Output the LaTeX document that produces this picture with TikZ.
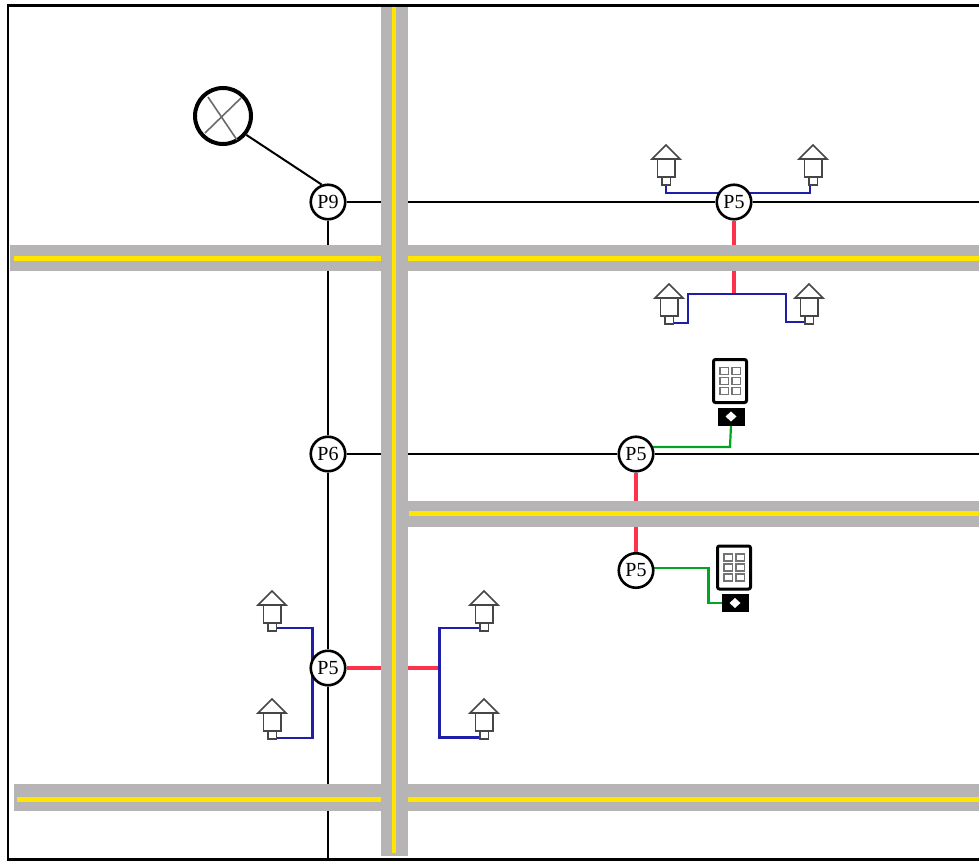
\documentclass[tikz,border=0pt]{standalone}
\usepackage{fontspec}
\setmainfont{Liberation Serif}
\pgfdeclarelayer{wires}
\pgfdeclarelayer{roads}
\pgfsetlayers{wires,roads,main}
\definecolor{roadgray}{RGB}{182,180,180}
\definecolor{roadline}{RGB}{255,229,0}
\definecolor{feedred}{RGB}{255,50,75}
\definecolor{lampblue}{RGB}{30,30,170}
\definecolor{solargreen}{RGB}{0,165,35}
\definecolor{lampgray}{RGB}{70,70,70}
\tikzset{
  x=1pt,y=-1pt,
  pole/.style={circle,draw=black,line width=2.6pt,fill=white,minimum size=34.5pt,inner sep=0pt,font=\fontsize{20}{20}\selectfont},
  main line/.style={draw=black,line width=2pt},
  feed/.style={draw=feedred,line width=4pt},
  lampwire/.style={draw=lampblue,line width=2.2pt},
  solarwire/.style={draw=solargreen,line width=2.2pt},
  road/.style={fill=roadgray},
  stripe/.style={fill=roadline},
  pics/lamp/.style={code={
    \draw[lampgray,line width=1.7pt,line join=miter] (-14,14) -- (0,0) -- (14,14) -- cycle;
    \draw[lampgray,line width=1.5pt,fill=white] (-8.5,14) rectangle (9,32);
    \draw[lampgray,line width=1.2pt,fill=white] (-4,32) rectangle (4.5,40);
    \coordinate (-base) at (0,40);
  }},
  pics/solar/.style={code={
    \draw[black,line width=3pt,rounded corners=2pt,fill=white] (0,0) rectangle (33,43);
    \foreach \cy in {8,18,28}{
      \draw[lampgray!75,line width=1.2pt,fill=white] (6.5,\cy) rectangle (15,\cy+7);
      \draw[lampgray!75,line width=1.2pt,fill=white] (18.5,\cy) rectangle (27,\cy+7);
    }
    \fill[black] (4,48) rectangle (31,66);
    \fill[white] (17.5,52) -- (23,57) -- (17.5,62) -- (12,57) -- cycle;
    \coordinate (-base) at (17.5,66);
    \coordinate (-side) at (4,57);
  }}
}
\begin{document}
\begin{tikzpicture}
\useasboundingbox (0,0) rectangle (979,861);
\begin{pgfonlayer}{wires}
  \fill[white] (0,0) rectangle (979,861);
\end{pgfonlayer}

% poles
\node[pole] (p9) at (328,202) {P9};
\node[pole] (p6) at (328,454) {P6};
\node[pole] (p5a) at (734,202) {P5};
\node[pole] (p5b) at (636,454) {P5};
\node[pole] (p5c) at (636,570.5) {P5};
\node[pole] (p5d) at (328,668) {P5};

% flood light
\node[circle,draw=black,line width=4pt,fill=white,minimum size=56pt,inner sep=0pt] (flood) at (223,116) {};
\draw[lampgray!80,line width=1.6pt] (208,97) -- (237,140);
\draw[lampgray!80,line width=1.6pt] (241,98) -- (205,133);

% lamps
\pic (la) at (666,145) {lamp};
\pic (lb) at (813,145) {lamp};
\pic (lc) at (669,284) {lamp};
\pic (ld) at (809,284) {lamp};
\pic (le) at (272,591) {lamp};
\pic (lf) at (272,699) {lamp};
\pic (lg) at (484,591) {lamp};
\pic (lh) at (484,699) {lamp};

% solar lights
\pic (sa) at (713.5,359.5) {solar};
\pic (sb) at (717.5,546) {solar};

% free ends and bends
\coordinate (e1) at (979,202);
\coordinate (e2) at (979,454);
\coordinate (e3) at (328,859);
\coordinate (tee1) at (734,294);
\coordinate (tee2) at (441,668);

\begin{pgfonlayer}{wires}
  \draw[main line] (flood.-39) -- (p9.110);
  \draw[main line] (p9) -- (p5a);
  \draw[main line] (p5a) -- (e1);
  \draw[main line] (p6) -- (p5b);
  \draw[main line] (p5b) -- (e2);
  \draw[main line] (p9) -- (p6);
  \draw[main line] (p6) -- (p5d);
  \draw[main line] (p5d) -- (e3);
  \draw[feed] (p5a) -- (tee1);
  \draw[feed] (p5b) -- (p5c);
  \draw[feed] (p5d) -- (tee2);
  \draw[lampwire] (la-base) |- (p5a.center |- 0,193);
  \draw[lampwire] ([xshift=-3pt]lb-base) |- (p5a.center |- 0,193);
  \draw[lampwire] (tee1) -- (688,294) -- (688,323) -- (lc-base |- 0,323);
  \draw[lampwire] (tee1) -- (786,294) -- (786,322) -- (ld-base |- 0,322);
  \draw[lampwire] (le-base |- 0,628) -- (312.5,628) -- (312.5,668);
  \draw[lampwire] (lf-base |- 0,738) -- (312.5,738) -- (312.5,668);
  \draw[lampwire] (lg-base |- 0,628) -- (439.5,628) -- (439.5,737.5) -- (lh-base |- 0,737.5);
  \draw[solarwire] (sa-base) -- (730,447) -- (p5b.center |- 0,447);
  \draw[solarwire] (p5c.center |- 0,568) -- (708.5,568) -- (708.5,603) -- (sb-side);
\end{pgfonlayer}

\begin{pgfonlayer}{roads}
  \fill[road] (10,245) rectangle (979,271);
  \fill[stripe] (14,255.5) rectangle (979,260.5);
  \fill[road] (408,501) rectangle (979,527);
  \fill[stripe] (409,510.5) rectangle (979,515.5);
  \fill[road] (14,784) rectangle (979,811);
  \fill[stripe] (17,796.5) rectangle (979,801.5);
  \fill[road] (381,6) rectangle (408,856);
  \fill[stripe] (392,6) rectangle (396,853);
\end{pgfonlayer}

% frame
\draw[black,line width=2.6pt] (979,5.5) -- (8,5.5) -- (8,859.5) -- (979,859.5);
\end{tikzpicture}
\end{document}
